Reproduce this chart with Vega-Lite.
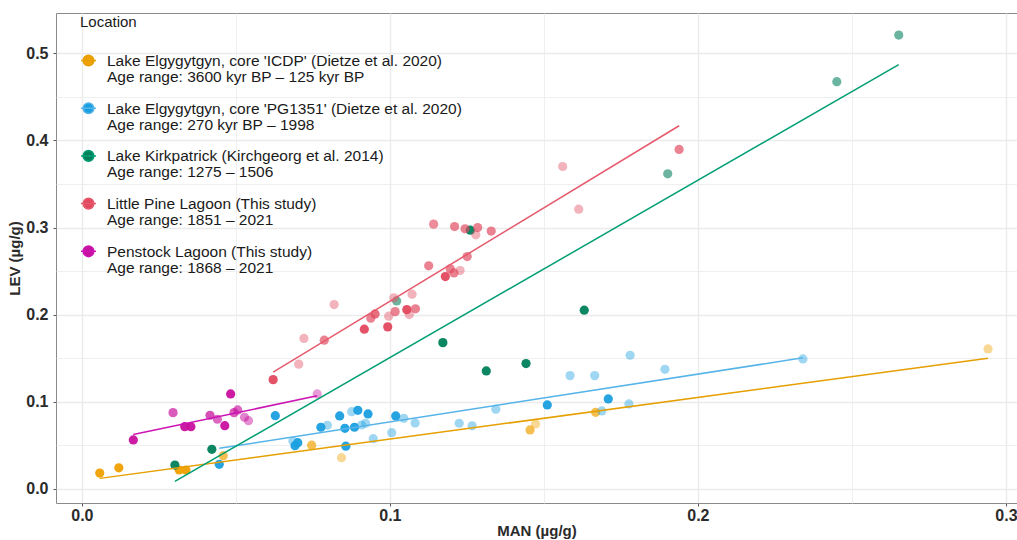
{
  "$schema": "https://vega.github.io/schema/vega-lite/v6.json",
  "width": 961,
  "height": 490,
  "autosize": {"type": "none"},
  "padding": {"left": 56, "top": 13, "right": 0, "bottom": 37},
  "config": {
    "font": "Liberation Sans",
    "view": {"stroke": "#8a8a8a", "strokeWidth": 1},
    "axis": {
      "labelFont": "Liberation Sans",
      "labelFontSize": 16,
      "labelFontWeight": "bold",
      "labelColor": "#2b2b2b",
      "titleFont": "Liberation Sans",
      "titleFontSize": 15,
      "titleFontWeight": "bold",
      "titleColor": "#2b2b2b",
      "domain": false,
      "tickSize": 3,
      "labelOverlap": false,
      "gridColor": "#ebebeb"
    }
  },
  "data": {
    "values": [
      {"location": "Lake Elgygytgyn, core 'ICDP' (Dietze et al. 2020)", "man": 0.0058, "lev": 0.018, "rel_age": 0},
      {"location": "Lake Elgygytgyn, core 'ICDP' (Dietze et al. 2020)", "man": 0.012, "lev": 0.024, "rel_age": 0},
      {"location": "Lake Elgygytgyn, core 'ICDP' (Dietze et al. 2020)", "man": 0.0316, "lev": 0.0215, "rel_age": 0},
      {"location": "Lake Elgygytgyn, core 'ICDP' (Dietze et al. 2020)", "man": 0.0338, "lev": 0.0215, "rel_age": 0},
      {"location": "Lake Elgygytgyn, core 'ICDP' (Dietze et al. 2020)", "man": 0.0459, "lev": 0.038, "rel_age": 0.5},
      {"location": "Lake Elgygytgyn, core 'ICDP' (Dietze et al. 2020)", "man": 0.0746, "lev": 0.050, "rel_age": 0.5},
      {"location": "Lake Elgygytgyn, core 'ICDP' (Dietze et al. 2020)", "man": 0.0843, "lev": 0.0356, "rel_age": 1},
      {"location": "Lake Elgygytgyn, core 'ICDP' (Dietze et al. 2020)", "man": 0.1455, "lev": 0.0675, "rel_age": 0.5},
      {"location": "Lake Elgygytgyn, core 'ICDP' (Dietze et al. 2020)", "man": 0.1473, "lev": 0.0744, "rel_age": 1},
      {"location": "Lake Elgygytgyn, core 'ICDP' (Dietze et al. 2020)", "man": 0.1668, "lev": 0.0878, "rel_age": 0.5},
      {"location": "Lake Elgygytgyn, core 'ICDP' (Dietze et al. 2020)", "man": 0.2942, "lev": 0.1606, "rel_age": 1},

      {"location": "Lake Elgygytgyn, core 'PG1351' (Dietze et al. 2020)", "man": 0.0446, "lev": 0.0280, "rel_age": 0},
      {"location": "Lake Elgygytgyn, core 'PG1351' (Dietze et al. 2020)", "man": 0.0628, "lev": 0.0839, "rel_age": 0},
      {"location": "Lake Elgygytgyn, core 'PG1351' (Dietze et al. 2020)", "man": 0.0685, "lev": 0.0548, "rel_age": 1},
      {"location": "Lake Elgygytgyn, core 'PG1351' (Dietze et al. 2020)", "man": 0.0692, "lev": 0.0494, "rel_age": 0},
      {"location": "Lake Elgygytgyn, core 'PG1351' (Dietze et al. 2020)", "man": 0.0701, "lev": 0.0529, "rel_age": 0},
      {"location": "Lake Elgygytgyn, core 'PG1351' (Dietze et al. 2020)", "man": 0.0776, "lev": 0.0706, "rel_age": 0},
      {"location": "Lake Elgygytgyn, core 'PG1351' (Dietze et al. 2020)", "man": 0.0797, "lev": 0.0729, "rel_age": 1},
      {"location": "Lake Elgygytgyn, core 'PG1351' (Dietze et al. 2020)", "man": 0.0837, "lev": 0.0836, "rel_age": 0},
      {"location": "Lake Elgygytgyn, core 'PG1351' (Dietze et al. 2020)", "man": 0.0854, "lev": 0.0694, "rel_age": 0},
      {"location": "Lake Elgygytgyn, core 'PG1351' (Dietze et al. 2020)", "man": 0.0857, "lev": 0.0489, "rel_age": 0},
      {"location": "Lake Elgygytgyn, core 'PG1351' (Dietze et al. 2020)", "man": 0.0876, "lev": 0.0885, "rel_age": 1},
      {"location": "Lake Elgygytgyn, core 'PG1351' (Dietze et al. 2020)", "man": 0.0896, "lev": 0.0901, "rel_age": 0},
      {"location": "Lake Elgygytgyn, core 'PG1351' (Dietze et al. 2020)", "man": 0.0885, "lev": 0.0706, "rel_age": 0},
      {"location": "Lake Elgygytgyn, core 'PG1351' (Dietze et al. 2020)", "man": 0.0908, "lev": 0.0732, "rel_age": 1},
      {"location": "Lake Elgygytgyn, core 'PG1351' (Dietze et al. 2020)", "man": 0.0921, "lev": 0.0752, "rel_age": 1},
      {"location": "Lake Elgygytgyn, core 'PG1351' (Dietze et al. 2020)", "man": 0.0929, "lev": 0.0859, "rel_age": 0},
      {"location": "Lake Elgygytgyn, core 'PG1351' (Dietze et al. 2020)", "man": 0.0946, "lev": 0.0575, "rel_age": 1},
      {"location": "Lake Elgygytgyn, core 'PG1351' (Dietze et al. 2020)", "man": 0.1006, "lev": 0.0644, "rel_age": 1},
      {"location": "Lake Elgygytgyn, core 'PG1351' (Dietze et al. 2020)", "man": 0.1019, "lev": 0.0836, "rel_age": 0},
      {"location": "Lake Elgygytgyn, core 'PG1351' (Dietze et al. 2020)", "man": 0.1045, "lev": 0.0809, "rel_age": 1},
      {"location": "Lake Elgygytgyn, core 'PG1351' (Dietze et al. 2020)", "man": 0.1082, "lev": 0.0755, "rel_age": 1},
      {"location": "Lake Elgygytgyn, core 'PG1351' (Dietze et al. 2020)", "man": 0.1225, "lev": 0.0752, "rel_age": 1},
      {"location": "Lake Elgygytgyn, core 'PG1351' (Dietze et al. 2020)", "man": 0.1267, "lev": 0.0723, "rel_age": 1},
      {"location": "Lake Elgygytgyn, core 'PG1351' (Dietze et al. 2020)", "man": 0.1344, "lev": 0.0913, "rel_age": 1},
      {"location": "Lake Elgygytgyn, core 'PG1351' (Dietze et al. 2020)", "man": 0.1511, "lev": 0.0962, "rel_age": 0},
      {"location": "Lake Elgygytgyn, core 'PG1351' (Dietze et al. 2020)", "man": 0.1585, "lev": 0.1299, "rel_age": 1},
      {"location": "Lake Elgygytgyn, core 'PG1351' (Dietze et al. 2020)", "man": 0.1665, "lev": 0.1299, "rel_age": 1},
      {"location": "Lake Elgygytgyn, core 'PG1351' (Dietze et al. 2020)", "man": 0.1688, "lev": 0.0893, "rel_age": 1},
      {"location": "Lake Elgygytgyn, core 'PG1351' (Dietze et al. 2020)", "man": 0.1709, "lev": 0.1031, "rel_age": 0},
      {"location": "Lake Elgygytgyn, core 'PG1351' (Dietze et al. 2020)", "man": 0.1776, "lev": 0.0974, "rel_age": 1},
      {"location": "Lake Elgygytgyn, core 'PG1351' (Dietze et al. 2020)", "man": 0.1780, "lev": 0.1533, "rel_age": 1},
      {"location": "Lake Elgygytgyn, core 'PG1351' (Dietze et al. 2020)", "man": 0.1893, "lev": 0.1372, "rel_age": 1},
      {"location": "Lake Elgygytgyn, core 'PG1351' (Dietze et al. 2020)", "man": 0.2341, "lev": 0.1491, "rel_age": 1},

      {"location": "Lake Kirkpatrick (Kirchgeorg et al. 2014)", "man": 0.0302, "lev": 0.0272, "rel_age": 0},
      {"location": "Lake Kirkpatrick (Kirchgeorg et al. 2014)", "man": 0.0422, "lev": 0.0453, "rel_age": 0},
      {"location": "Lake Kirkpatrick (Kirchgeorg et al. 2014)", "man": 0.1022, "lev": 0.2157, "rel_age": 0.7},
      {"location": "Lake Kirkpatrick (Kirchgeorg et al. 2014)", "man": 0.1172, "lev": 0.1678, "rel_age": 0},
      {"location": "Lake Kirkpatrick (Kirchgeorg et al. 2014)", "man": 0.1261, "lev": 0.2970, "rel_age": 0},
      {"location": "Lake Kirkpatrick (Kirchgeorg et al. 2014)", "man": 0.1313, "lev": 0.1353, "rel_age": 0},
      {"location": "Lake Kirkpatrick (Kirchgeorg et al. 2014)", "man": 0.1442, "lev": 0.1437, "rel_age": 0},
      {"location": "Lake Kirkpatrick (Kirchgeorg et al. 2014)", "man": 0.1631, "lev": 0.2051, "rel_age": 0},
      {"location": "Lake Kirkpatrick (Kirchgeorg et al. 2014)", "man": 0.1902, "lev": 0.3617, "rel_age": 0.7},
      {"location": "Lake Kirkpatrick (Kirchgeorg et al. 2014)", "man": 0.2451, "lev": 0.4675, "rel_age": 0.7},
      {"location": "Lake Kirkpatrick (Kirchgeorg et al. 2014)", "man": 0.2652, "lev": 0.5211, "rel_age": 0.7},

      {"location": "Little Pine Lagoon (This study)", "man": 0.0621, "lev": 0.1253, "rel_age": 0},
      {"location": "Little Pine Lagoon (This study)", "man": 0.0704, "lev": 0.1431, "rel_age": 1},
      {"location": "Little Pine Lagoon (This study)", "man": 0.0721, "lev": 0.1726, "rel_age": 1},
      {"location": "Little Pine Lagoon (This study)", "man": 0.0787, "lev": 0.1706, "rel_age": 0.5},
      {"location": "Little Pine Lagoon (This study)", "man": 0.0819, "lev": 0.2115, "rel_age": 1},
      {"location": "Little Pine Lagoon (This study)", "man": 0.0917, "lev": 0.1832, "rel_age": 0},
      {"location": "Little Pine Lagoon (This study)", "man": 0.0938, "lev": 0.1959, "rel_age": 0.5},
      {"location": "Little Pine Lagoon (This study)", "man": 0.0952, "lev": 0.2008, "rel_age": 0.3},
      {"location": "Little Pine Lagoon (This study)", "man": 0.0993, "lev": 0.1859, "rel_age": 0},
      {"location": "Little Pine Lagoon (This study)", "man": 0.0996, "lev": 0.1982, "rel_age": 1},
      {"location": "Little Pine Lagoon (This study)", "man": 0.1013, "lev": 0.2192, "rel_age": 1},
      {"location": "Little Pine Lagoon (This study)", "man": 0.1017, "lev": 0.2034, "rel_age": 0.5},
      {"location": "Little Pine Lagoon (This study)", "man": 0.1055, "lev": 0.2057, "rel_age": 0},
      {"location": "Little Pine Lagoon (This study)", "man": 0.1063, "lev": 0.2000, "rel_age": 1},
      {"location": "Little Pine Lagoon (This study)", "man": 0.1072, "lev": 0.2234, "rel_age": 1},
      {"location": "Little Pine Lagoon (This study)", "man": 0.1083, "lev": 0.2066, "rel_age": 0.5},
      {"location": "Little Pine Lagoon (This study)", "man": 0.1126, "lev": 0.2560, "rel_age": 0.5},
      {"location": "Little Pine Lagoon (This study)", "man": 0.1142, "lev": 0.3039, "rel_age": 0.6},
      {"location": "Little Pine Lagoon (This study)", "man": 0.1180, "lev": 0.2437, "rel_age": 0},
      {"location": "Little Pine Lagoon (This study)", "man": 0.1196, "lev": 0.2525, "rel_age": 0.5},
      {"location": "Little Pine Lagoon (This study)", "man": 0.1208, "lev": 0.2479, "rel_age": 0.5},
      {"location": "Little Pine Lagoon (This study)", "man": 0.1228, "lev": 0.2506, "rel_age": 1},
      {"location": "Little Pine Lagoon (This study)", "man": 0.1210, "lev": 0.3011, "rel_age": 0.5},
      {"location": "Little Pine Lagoon (This study)", "man": 0.1244, "lev": 0.2985, "rel_age": 0.5},
      {"location": "Little Pine Lagoon (This study)", "man": 0.1251, "lev": 0.2667, "rel_age": 0.5},
      {"location": "Little Pine Lagoon (This study)", "man": 0.1279, "lev": 0.2916, "rel_age": 1},
      {"location": "Little Pine Lagoon (This study)", "man": 0.1285, "lev": 0.3000, "rel_age": 0.5},
      {"location": "Little Pine Lagoon (This study)", "man": 0.1329, "lev": 0.2959, "rel_age": 0.5},
      {"location": "Little Pine Lagoon (This study)", "man": 0.1561, "lev": 0.3701, "rel_age": 1},
      {"location": "Little Pine Lagoon (This study)", "man": 0.1613, "lev": 0.3211, "rel_age": 1},
      {"location": "Little Pine Lagoon (This study)", "man": 0.1939, "lev": 0.3897, "rel_age": 0.5},

      {"location": "Penstock Lagoon (This study)", "man": 0.0167, "lev": 0.0560, "rel_age": 0},
      {"location": "Penstock Lagoon (This study)", "man": 0.0296, "lev": 0.0874, "rel_age": 0.5},
      {"location": "Penstock Lagoon (This study)", "man": 0.0334, "lev": 0.0713, "rel_age": 0},
      {"location": "Penstock Lagoon (This study)", "man": 0.0354, "lev": 0.0713, "rel_age": 0},
      {"location": "Penstock Lagoon (This study)", "man": 0.0416, "lev": 0.0844, "rel_age": 0.4},
      {"location": "Penstock Lagoon (This study)", "man": 0.0440, "lev": 0.0798, "rel_age": 0.6},
      {"location": "Penstock Lagoon (This study)", "man": 0.0464, "lev": 0.0724, "rel_age": 0},
      {"location": "Penstock Lagoon (This study)", "man": 0.0483, "lev": 0.1089, "rel_age": 0},
      {"location": "Penstock Lagoon (This study)", "man": 0.0494, "lev": 0.0874, "rel_age": 0.5},
      {"location": "Penstock Lagoon (This study)", "man": 0.0506, "lev": 0.0905, "rel_age": 0.6},
      {"location": "Penstock Lagoon (This study)", "man": 0.0528, "lev": 0.0821, "rel_age": 0.8},
      {"location": "Penstock Lagoon (This study)", "man": 0.0541, "lev": 0.0782, "rel_age": 0.9},
      {"location": "Penstock Lagoon (This study)", "man": 0.0764, "lev": 0.1089, "rel_age": 1}
    ]
  },
  "layer": [
    {
      "mark": {"type": "circle", "size": 85},
      "encoding": {
        "x": {
          "field": "man", "type": "quantitative",
          "scale": {"domain": [-0.0084, 0.3036], "nice": false, "zero": false},
          "axis": {
            "title": "MAN (µg/g)",
            "values": [0, 0.05, 0.1, 0.15, 0.2, 0.25, 0.3],
            "labelExpr": "round(datum.value*100) % 10 === 0 ? format(datum.value, '.1f') : ''",
            "tickColor": {"condition": {"test": "round(datum.value*100) % 10 === 0", "value": "#555555"}, "value": "transparent"},
            "gridWidth": {"condition": {"test": "round(datum.value*100) % 10 === 0", "value": 1.4}, "value": 0.8},
            "labelPadding": 1,
            "titlePadding": 0
          }
        },
        "y": {
          "field": "lev", "type": "quantitative",
          "scale": {"domain": [-0.0164, 0.5464], "nice": false, "zero": false},
          "axis": {
            "title": "LEV (µg/g)",
            "values": [0, 0.05, 0.1, 0.15, 0.2, 0.25, 0.3, 0.35, 0.4, 0.45, 0.5],
            "labelExpr": "round(datum.value*100) % 10 === 0 ? format(datum.value, '.1f') : ''",
            "tickColor": {"condition": {"test": "round(datum.value*100) % 10 === 0", "value": "#555555"}, "value": "transparent"},
            "gridWidth": {"condition": {"test": "round(datum.value*100) % 10 === 0", "value": 1.4}, "value": 0.8},
            "labelPadding": 5,
            "titlePadding": 3
          }
        },
        "fill": {
          "field": "location", "type": "nominal",
          "scale": {
            "domain": ["Lake Elgygytgyn, core 'ICDP' (Dietze et al. 2020)", "Lake Elgygytgyn, core 'PG1351' (Dietze et al. 2020)", "Lake Kirkpatrick (Kirchgeorg et al. 2014)", "Little Pine Lagoon (This study)", "Penstock Lagoon (This study)"],
            "range": ["#F0A000", "#1A9FE0", "#007F5C", "#E2495F", "#C8109E"]
          },
          "legend": {
            "title": "Location",
            "orient": "none",
            "legendX": 22,
            "legendY": 0,
            "padding": 2,
            "titleFont": "Liberation Sans",
            "titleFontSize": 15,
            "titleFontWeight": "normal",
            "titleColor": "#1a1a1a",
            "titlePadding": 22,
            "labelFont": "Liberation Sans",
            "labelFontSize": 15.5,
            "labelColor": "#1a1a1a",
            "labelLimit": 600,
            "labelBaseline": "alphabetic",
            "labelOffset": 10,
            "rowPadding": 13.7,
            "symbolType": "M-1,0L1,0M-0.71,0A0.71,0.71,0,1,1,0.71,0A0.71,0.71,0,1,1,-0.71,0Z",
            "symbolSize": 225,
            "symbolStrokeWidth": 1.5,
            "symbolOpacity": 1,
            "labelExpr": "[datum.label, 'Age range: ' + (indexof(datum.label, 'ICDP') >= 0 ? '3600 kyr BP – 125 kyr BP' : indexof(datum.label, 'PG1351') >= 0 ? '270 kyr BP – 1998' : indexof(datum.label, 'Kirkpatrick') >= 0 ? '1275 – 1506' : indexof(datum.label, 'Little Pine') >= 0 ? '1851 – 2021' : '1868 – 2021')]",
            "encode": {
              "symbols": {"update": {"fill": {"scale": "color", "field": "value"}, "stroke": {"scale": "color", "field": "value"}, "opacity": {"value": 1}}},
              "labels": {"update": {"dy": {"value": 5.5}, "lineHeight": {"value": 16}}}
            }
          }
        },
        "opacity": {
          "field": "rel_age", "type": "quantitative",
          "scale": {"domain": [0, 1], "range": [0.95, 0.42]},
          "legend": null
        }
      }
    },
    {
      "transform": [{"regression": "lev", "on": "man", "groupby": ["location"]}],
      "mark": {"type": "line", "strokeWidth": 1.5},
      "encoding": {
        "x": {"field": "man", "type": "quantitative"},
        "y": {"field": "lev", "type": "quantitative"},
        "color": {
          "field": "location", "type": "nominal",
          "scale": {
            "domain": ["Lake Elgygytgyn, core 'ICDP' (Dietze et al. 2020)", "Lake Elgygytgyn, core 'PG1351' (Dietze et al. 2020)", "Lake Kirkpatrick (Kirchgeorg et al. 2014)", "Little Pine Lagoon (This study)", "Penstock Lagoon (This study)"],
            "range": ["#E69F00", "#56B4E9", "#009E73", "#E55A6C", "#CC14B4"]
          },
          "legend": null
        }
      }
    }
  ]
}
